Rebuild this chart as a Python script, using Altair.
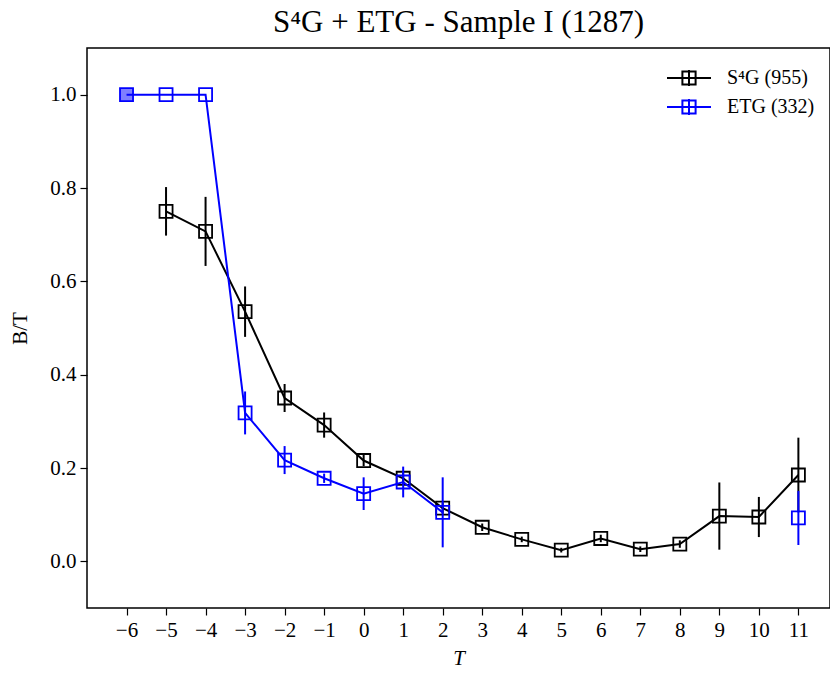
import altair as alt
import pandas as pd

# ---- data ----
s4g_T = [-5, -4, -3, -2, -1, 0, 1, 2, 3, 4, 5, 6, 7, 8, 9, 10, 11]
s4g_bt = [0.750, 0.707, 0.535, 0.350, 0.292, 0.216, 0.178, 0.114, 0.073, 0.047, 0.024, 0.049, 0.026, 0.037, 0.097, 0.095, 0.185]
s4g_err = [0.052, 0.074, 0.054, 0.030, 0.027, 0.012, 0.012, 0.012, 0.008, 0.006, 0.005, 0.008, 0.006, 0.008, 0.072, 0.043, 0.080]

etg_T = [-6, -5, -4, -3, -2, -1, 0, 1, 2, 11]
etg_bt = [1.0, 1.0, 1.0, 0.318, 0.217, 0.178, 0.145, 0.170, 0.105, 0.093]
etg_err = [0.0, 0.0, 0.0, 0.046, 0.030, 0.010, 0.035, 0.033, 0.075, 0.058]
etg_connected = [True, True, True, True, True, True, True, True, True, False]
etg_filled = [True, False, False, False, False, False, False, False, False, False]

S4G = "S\u2074G (955)"
ETG = "ETG (332)"
x_ticks = list(range(-6, 12))
y_ticks = [0.0, 0.2, 0.4, 0.6, 0.8, 1.0]

s4g = pd.DataFrame({"T": s4g_T, "BT": s4g_bt, "err": s4g_err})
s4g["series"] = S4G
s4g["connected"] = True
s4g["filled"] = False
etg = pd.DataFrame({"T": etg_T, "BT": etg_bt, "err": etg_err,
                    "connected": etg_connected, "filled": etg_filled})
etg["series"] = ETG
for df in (s4g, etg):
    df["lo"] = df["BT"] - df["err"]
    df["hi"] = df["BT"] + df["err"]

FONT = "Liberation Serif"

xenc = alt.X("T:Q", scale=alt.Scale(domain=[-7, 11.8], nice=False, zero=False),
             axis=alt.Axis(values=x_ticks, title="T", titleFontStyle="italic",
                           format="d", grid=False))
yenc = alt.Y("BT:Q", scale=alt.Scale(domain=[-0.1, 1.1], nice=False, zero=False),
             axis=alt.Axis(values=y_ticks, title="B/T", format=".1f", grid=False))
cscale = alt.Scale(domain=[S4G, ETG], range=["black", "blue"])
color = alt.Color("series:N", scale=cscale,
                  legend=alt.Legend(title=None, orient="none", legendX=590, legendY=18,
                                    symbolType="M-2,0H2M-0.6,-0.6H0.6V0.6H-0.6ZM0,-0.72V0.72",
                                    symbolSize=484, symbolStrokeWidth=2,
                                    symbolFillColor="transparent", symbolOpacity=1,
                                    labelFont=FONT, labelFontSize=20,
                                    rowPadding=5, labelOffset=26))
color_nolegend = alt.Color("series:N", scale=cscale, legend=None)


def layers(df, with_legend):
    base = alt.Chart(df)
    c = color if with_legend else color_nolegend
    bars = base.mark_rule(strokeWidth=2).encode(x=xenc, y="lo:Q", y2="hi:Q", color=c)
    line = base.transform_filter("datum.connected").mark_line(strokeWidth=2).encode(
        x=xenc, y=yenc, color=color_nolegend)
    fill = base.transform_filter("datum.filled").mark_point(
        shape="square", filled=True, size=170, opacity=0.5, strokeWidth=0).encode(
        x=xenc, y=yenc, color=alt.value("blue"))
    pts = base.mark_point(shape="square", filled=False, size=170, strokeWidth=1.8,
                          opacity=1).encode(x=xenc, y=yenc, color=color_nolegend)
    return [bars, line, fill, pts]


chart = alt.layer(*(layers(s4g, True) + layers(etg, True))).properties(
    width=743, height=560,
    title=alt.Title("S\u2074G + ETG - Sample I (1287)", font=FONT, fontSize=31,
                    fontWeight="normal", anchor="middle", offset=9, color="black"),
    autosize=alt.AutoSizeParams(type="none"),
    padding={"left": 87, "top": 48, "right": 0, "bottom": 67},
).configure_view(stroke="black", strokeWidth=1.5).configure_axis(
    labelFont=FONT, labelFontSize=21, titleFont=FONT, titleFontSize=21,
    titleFontWeight="normal", labelColor="black", titleColor="black",
    tickColor="black", tickSize=7, tickWidth=1.2, domain=False, labelPadding=4,
).configure_axisX(titlePadding=7).configure_axisY(titlePadding=19)

chart.save("out.html", embed_options={"renderer": "svg", "actions": False})
